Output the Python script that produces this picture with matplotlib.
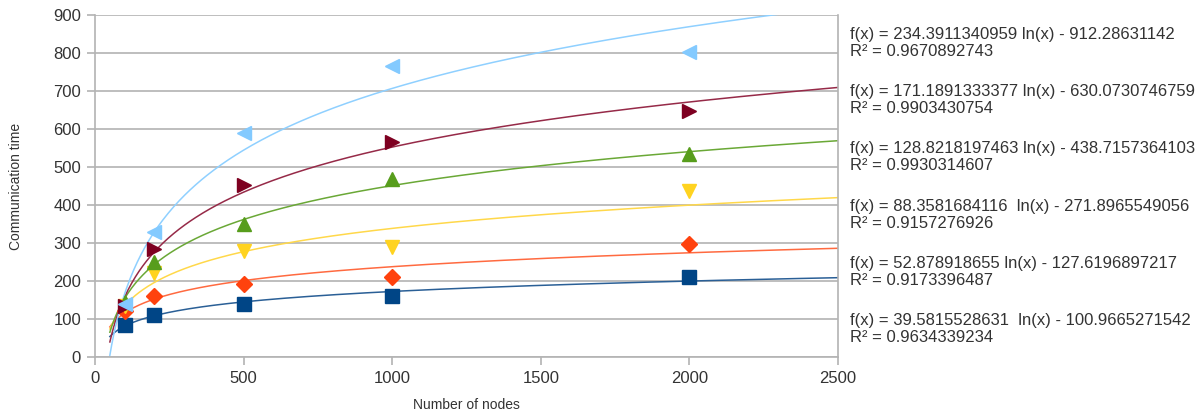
import numpy as np
import matplotlib.pyplot as plt

plt.rcParams['font.family'] = ['Liberation Sans', 'DejaVu Sans']

nodes = [100, 200, 500, 1000, 2000]

# measured points, bottom series first
blue = [85, 110, 140, 160, 210]
orange = [120, 160, 192, 210, 298]
yellow = [135, 220, 280, 290, 437]
green = [145, 250, 350, 468, 535]
darkred = [135, 285, 452, 567, 648]
lightblue = [140, 328, 590, 765, 802]

# logarithmic trend lines: f(x) = a ln(x) + b
slopes = [39.5815528631, 52.878918655, 88.3581684116, 128.8218197463, 171.1891333377, 234.3911340959]
intercepts = [-100.966527154, -127.6196897217, -271.8965549056, -438.7157364103, -630.0730746759, -912.28631142]
labels = [
    "f(x) = 39.5815528631  ln(x) - 100.9665271542\nR² = 0.9634339234",
    "f(x) = 52.878918655 ln(x) - 127.6196897217\nR² = 0.9173396487",
    "f(x) = 88.3581684116  ln(x) - 271.8965549056\nR² = 0.9157276926",
    "f(x) = 128.8218197463 ln(x) - 438.7157364103\nR² = 0.9930314607",
    "f(x) = 171.1891333377 ln(x) - 630.0730746759\nR² = 0.9903430754",
    "f(x) = 234.3911340959 ln(x) - 912.28631142\nR² = 0.9670892743",
]

series = [blue, orange, yellow, green, darkred, lightblue]
colors = ['#004586', '#ff420e', '#ffd320', '#579d1c', '#7e0021', '#83caff']
line_colors = ['#2a5f96', '#ff6a40', '#ffd84a', '#6aa836', '#962a48', '#8fd0ff']
markers = ['s', 'D', 'v', '^', '>', '<']
msizes = [10, 8, 10, 10, 10, 10]

fig = plt.figure(figsize=(12, 4.16), dpi=100)
ax = fig.add_axes([95/1200, 1-357/416, 743/1200, 342/416])

xs = np.linspace(50, 2500, 400)
for i in range(len(series)):
    ax.plot(xs, slopes[i]*np.log(xs) + intercepts[i], color=line_colors[i], lw=1.1, zorder=2)
for i in range(len(series)):
    ax.plot(nodes, series[i], linestyle='none', marker=markers[i], ms=msizes[i],
            color=colors[i], zorder=3)

ax.set_xlim(0, 2500)
ax.set_ylim(0, 900)
ax.set_xticks(range(0, 2501, 500))
ax.set_yticks(range(0, 901, 100))
ax.grid(axis='y', color='#b3b3b3', lw=1.2)
ax.set_axisbelow(True)
ax.spines['top'].set_visible(False)
for s in ['left', 'right', 'bottom']:
    ax.spines[s].set_color('#b3b3b3')
    ax.spines[s].set_linewidth(1.2)
ax.tick_params(axis='both', colors='#b3b3b3', labelcolor='#333333', labelsize=12,
               length=6, width=1.2, pad=4)
ax.set_xlabel("Number of nodes", fontsize=10, color='#333333', labelpad=9)
ax.set_ylabel("Communication time", fontsize=10, color='#333333', labelpad=22)

centers = [329, 272, 215, 157, 100, 43]
for i in range(len(labels)):
    fig.text(850/1200, 1-centers[i]/416, labels[i], fontsize=12, color='#333333',
             va='center', ha='left', linespacing=1.2)

fig.savefig('out.png', dpi=100)
